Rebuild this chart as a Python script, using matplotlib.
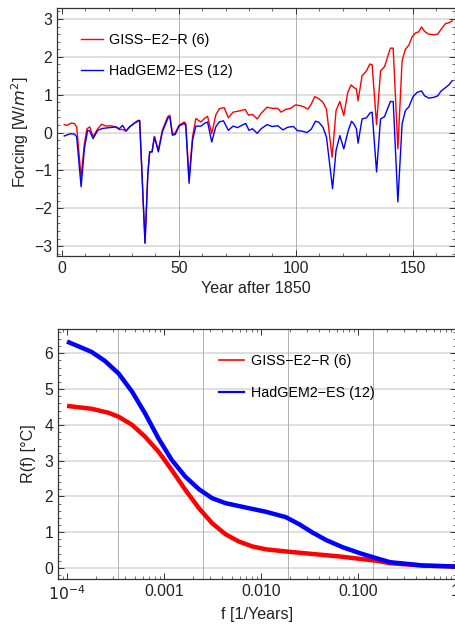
import matplotlib
matplotlib.use("Agg")
import matplotlib.pyplot as plt
from matplotlib.lines import Line2D
from matplotlib.ticker import FixedLocator, FixedFormatter, MultipleLocator, LogLocator, NullFormatter

plt.rcParams['font.family'] = ['Liberation Sans', 'DejaVu Sans']

# Forcing time series (year after 1850, W/m^2)
giss_year = [1.1, 2.3, 4, 5.4, 6.4, 8.3, 9.7, 10.8, 12, 13.4, 15.4, 17, 19, 21, 23, 24.6, 26, 27.5,
             29, 30.8, 32.5, 33.3, 35.6, 36.8, 37.6, 38.6, 39.6, 41.3, 43, 45.2, 46.2, 47.3, 48.5,
             50.1, 52.3, 53, 54.4, 55.9, 57.3, 59.5, 60.9, 62.3, 64.1, 65.8, 67.3, 69.4, 71.2,
             73.2, 75.8, 78.4, 79.8, 81.5, 83.5, 85.2, 87.7, 89.9, 92.3, 93.7, 95.6, 97.7, 99.9,
             102, 103.4, 105.1, 106.6, 108.1, 109.9, 111.6, 113.1, 115.5, 117.2, 118.8, 120.5,
             122.2, 123.6, 124.8, 125.9, 126.6, 128.3, 130.2, 131.6, 132.6, 134.5, 136.2, 137.9,
             140.4, 141.6, 143.6, 145.4, 146.8, 148.3, 149.7, 151.1, 152.5, 153.7, 155, 156.8,
             159, 160.6, 162.1, 164, 165.4, 166.8]
giss_forcing = [0.21, 0.19, 0.25, 0.24, 0.15, -1.18, -0.29, 0.1, 0.15, -0.11, 0.1, 0.22, 0.17,
                0.18, 0.15, 0.08, 0.08, 0.04, 0.15, 0.24, 0.32, 0.32, -2.92, -1.08, -0.51, -0.51,
                -0.1, -0.46, 0.06, 0.41, 0.46, -0.03, -0.01, 0.19, 0.28, 0.24, -1.2, -0.11, 0.37,
                0.28, 0.37, 0.43, -0.03, 0.46, 0.63, 0.66, 0.39, 0.54, 0.57, 0.61, 0.46, 0.48,
                0.36, 0.51, 0.67, 0.64, 0.64, 0.54, 0.61, 0.64, 0.73, 0.71, 0.68, 0.62, 0.75,
                0.95, 0.89, 0.8, 0.62, -0.65, 0.58, 0.82, 0.45, 1.06, 1.26, 1.19, 1.15, 0.84,
                1.5, 1.63, 1.81, 1.79, 0.21, 1.63, 1.74, 2.23, 2.23, -0.43, 1.89, 2.2, 2.31,
                2.53, 2.63, 2.66, 2.79, 2.67, 2.6, 2.58, 2.6, 2.73, 2.88, 2.9, 2.95]

had_year = [1.1, 3.7, 5.4, 6.4, 8.3, 9.7, 11.1, 12, 13.4, 15.4, 17.5, 20.4, 23.2, 24.6, 26, 27.5,
            29, 31.1, 33.3, 35.6, 36.8, 37.6, 38.6, 39.6, 41.3, 43, 45.6, 46.2, 47.3, 48.5, 50.1,
            52.3, 53, 54.4, 55.9, 57.3, 59.5, 60.9, 62.3, 64.1, 65.8, 67.3, 69.1, 71.2, 73.2,
            75.1, 76.9, 78.6, 80, 81.5, 83.5, 85.2, 87.7, 89.9, 92.3, 94.5, 96.5, 99, 100.7,
            102.6, 104.8, 106.6, 108.4, 109.9, 111.6, 113.1, 115.7, 117.2, 118.8, 120.5, 122.4,
            123.8, 124.8, 125.9, 126.6, 128.3, 130.2, 131.6, 132.6, 134.5, 136.2, 137.9, 140.4,
            141.6, 143.6, 145.4, 146.8, 148.3, 150.1, 151.8, 153.7, 155, 156.8, 159, 160.6,
            162.1, 164, 165.4, 166.8]
had_forcing = [-0.09, -0.03, -0.04, -0.11, -1.43, -0.42, 0.06, 0.04, -0.16, 0.06, 0.11, 0.13,
               0.15, 0.1, 0.19, 0.04, 0.15, 0.25, 0.32, -2.92, -1.08, -0.51, -0.51, -0.12, -0.51,
               0.02, 0.41, 0.41, -0.07, -0.05, 0.17, 0.24, 0.19, -1.34, -0.2, 0.17, 0.17, 0.24,
               0.28, -0.25, 0.15, 0.28, 0.31, 0.06, 0.17, 0.13, 0.19, 0.24, 0.06, 0.1, -0.02,
               0.1, 0.21, 0.16, 0.18, 0.07, 0.14, 0.16, 0.05, 0.04, 0.0, 0.09, 0.3, 0.27, 0.14,
               -0.12, -1.48, -0.47, -0.08, -0.43, 0.05, 0.3, 0.23, 0.1, -0.28, 0.36, 0.39, 0.51,
               0.54, -1.04, 0.36, 0.42, 0.82, 0.82, -1.83, 0.23, 0.58, 0.68, 0.95, 1.06, 1.1,
               0.97, 0.91, 0.93, 0.97, 1.1, 1.19, 1.26, 1.37]

# Response function R(f)
giss_f = [1e-4, 1.79e-4, 2.66e-4, 3.39e-4, 4.68e-4, 6.38e-4, 8.77e-4, 1.20e-3, 1.66e-3, 2.29e-3,
          3.13e-3, 4.31e-3, 5.89e-3, 8.13e-3, 0.0112, 0.018, 0.0339, 0.0646, 0.155, 0.214,
          0.479, 1.0]
giss_R = [4.53, 4.45, 4.34, 4.23, 4.0, 3.67, 3.25, 2.74, 2.18, 1.67, 1.25, 0.94, 0.74, 0.6,
          0.52, 0.46, 0.39, 0.32, 0.2, 0.13, 0.065, 0.04]
had_f = [1e-4, 1.30e-4, 1.79e-4, 2.45e-4, 3.39e-4, 4.68e-4, 6.38e-4, 8.77e-4, 1.20e-3, 1.66e-3,
         2.29e-3, 3.13e-3, 4.31e-3, 6.92e-3, 0.0112, 0.018, 0.0248, 0.0339, 0.0468, 0.0692,
         0.105, 0.155, 0.214, 0.479, 1.0]
had_R = [6.33, 6.2, 6.04, 5.79, 5.44, 4.93, 4.32, 3.62, 3.02, 2.55, 2.2, 1.95, 1.81, 1.69, 1.57,
         1.42, 1.22, 0.99, 0.78, 0.58, 0.41, 0.27, 0.16, 0.065, 0.04]

labels = ['GISS\u2212E2\u2212R (6)', 'HadGEM2\u2212ES (12)']
red, blue = '#ff0000', '#0000ff'
frame_col = '#333333'
text_col = '#222222'
fs_tick = 11.3
fs_label = 11.6
fs_leg = 10.3

fig = plt.figure(figsize=(4.56, 6.28), dpi=100)
ax1 = fig.add_axes([57 / 456, 1 - 256 / 628, 398 / 456, 248 / 628])
ax2 = fig.add_axes([58 / 456, 1 - 579 / 628, 398 / 456, 250 / 628])


def style_frame(ax):
    for sp in ax.spines.values():
        sp.set_color(frame_col)
        sp.set_linewidth(0.9)
    ax.tick_params(which='both', direction='in', top=True, right=True, color=frame_col,
                   labelsize=fs_tick, labelcolor=text_col, pad=3.5)
    ax.tick_params(which='major', length=4, width=0.7)
    ax.tick_params(which='minor', length=2, width=0.5)


# --- top panel: forcing ---
for y in range(-3, 4):
    ax1.axhline(y, color='#d6d6d6', lw=1.1, zorder=0)
for x in [50, 100, 150]:
    ax1.axvline(x, color='#b0b0b0', lw=0.7, zorder=0)
ax1.plot(giss_year, giss_forcing, color=red, lw=1.0)
ax1.plot(had_year, had_forcing, color=blue, lw=1.0)
ax1.set_xlim(-2, 168)
ax1.set_ylim(-3.26, 3.29)
ax1.xaxis.set_major_locator(FixedLocator([0, 50, 100, 150]))
ax1.xaxis.set_minor_locator(MultipleLocator(10))
ax1.yaxis.set_major_locator(FixedLocator([-3, -2, -1, 0, 1, 2, 3]))
ax1.yaxis.set_major_formatter(FixedFormatter(['\u22123', '\u22122', '\u22121', '0', '1', '2', '3']))
ax1.yaxis.set_minor_locator(MultipleLocator(0.2))
style_frame(ax1)
ax1.set_xlabel('Year after 1850', fontsize=fs_label, color=text_col, labelpad=4)
ax1.set_ylabel('Forcing [W/$m^2$]', fontsize=fs_label, color=text_col, labelpad=2)

h1 = [Line2D([], [], color=red, lw=1.0), Line2D([], [], color=blue, lw=1.0)]
ax1.legend(h1, labels, loc='upper left', bbox_to_anchor=(0.06, 0.9), frameon=False,
           fontsize=fs_leg, handlelength=1.55, handletextpad=0.45, labelspacing=1.2,
           borderpad=0, borderaxespad=0)

# --- bottom panel: response ---
for y in range(0, 7):
    ax2.axhline(y, color='#d6d6d6', lw=1.1, zorder=0)
for x in [3.39e-4, 2.51e-3, 1.88e-2, 1.41e-1]:
    ax2.axvline(x, color='#b0b0b0', lw=0.7, zorder=0)
ax2.plot(giss_f, giss_R, color=red, lw=3.2, solid_capstyle='butt', solid_joinstyle='round')
ax2.plot(had_f, had_R, color=blue, lw=3.2, solid_capstyle='butt', solid_joinstyle='round')
ax2.set_xscale('log')
ax2.set_xlim(10 ** -4.093, 10 ** 0.01)
ax2.set_ylim(-0.31, 6.68)
ax2.xaxis.set_major_locator(FixedLocator([1e-4, 1e-3, 1e-2, 1e-1, 1]))
ax2.xaxis.set_major_formatter(FixedFormatter(['$10^{-4}$', '0.001', '0.010', '0.100', '1']))
ax2.xaxis.set_minor_locator(LogLocator(base=10, subs=range(2, 10)))
ax2.xaxis.set_minor_formatter(NullFormatter())
ax2.yaxis.set_major_locator(FixedLocator(range(0, 7)))
ax2.yaxis.set_minor_locator(MultipleLocator(0.2))
style_frame(ax2)
ax2.set_xlabel('f [1/Years]', fontsize=fs_label, color=text_col, labelpad=3)
ax2.set_ylabel('R(f) [\u00b0C]', fontsize=fs_label, color=text_col, labelpad=6)

h2 = [Line2D([], [], color=red, lw=1.2), Line2D([], [], color=blue, lw=1.6)]
ax2.legend(h2, labels, loc='upper left', bbox_to_anchor=(0.405, 0.9), frameon=False,
           fontsize=fs_leg, handlelength=1.75, handletextpad=0.45, labelspacing=1.25,
           borderpad=0, borderaxespad=0)

fig.savefig('out.png', dpi=100)
